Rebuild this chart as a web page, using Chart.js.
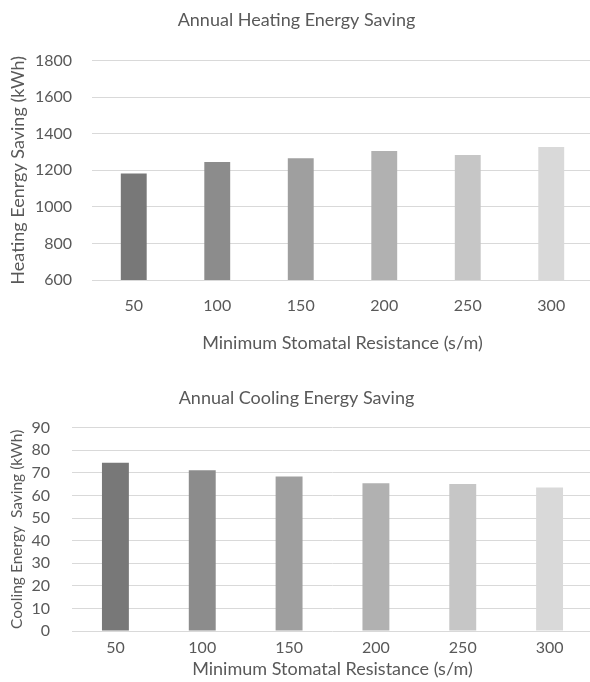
<!DOCTYPE html>
<html>
<head>
<meta charset="utf-8">
<script src="https://cdn.jsdelivr.net/npm/chart.js"></script>
<style>
  html, body { margin: 0; padding: 0; background: #fff; overflow: hidden; width: 590px; height: 682px; }
  #heatChart { position: absolute; left: 0; top: 0; }
  #coolChart { position: absolute; left: 0; top: 370px; }
</style>
</head>
<body>
<canvas id="heatChart" width="593" height="360"></canvas>
<canvas id="coolChart" width="593" height="312"></canvas>

<script>
  const resistance = ["50", "100", "150", "200", "250", "300"];
  const heatingSaving = [1183, 1246, 1266, 1305, 1283, 1327];
  const coolingSaving = [74.5, 71.1, 68.4, 65.4, 65.0, 63.5];
  const barGreys = ["#787878", "#8c8c8c", "#9f9f9f", "#b1b1b1", "#c6c6c6", "#d9d9d9"];

  const FONT = "Lato, 'Open Sans', sans-serif";
  const TEXT = "#595959";

  function makeChart(id, cfg) {
    return new Chart(document.getElementById(id), {
      type: "bar",
      data: {
        labels: resistance,
        datasets: [{
          data: cfg.values,
          backgroundColor: barGreys,
          borderWidth: 0,
          categoryPercentage: 1,
          barPercentage: 0.31
        }]
      },
      options: {
        responsive: false,
        animation: false,
        layout: { padding: 0 },
        plugins: {
          legend: { display: false },
          tooltip: { enabled: false },
          title: {
            display: true,
            text: cfg.title,
            color: TEXT,
            font: { family: FONT, size: 18, weight: "normal", lineHeight: 1.2 },
            padding: cfg.titlePad
          }
        },
        scales: {
          x: {
            grid: { display: false, drawTicks: false },
            border: { display: false },
            ticks: { color: TEXT, font: { family: FONT, size: 16 }, padding: cfg.xTickPad },
            title: {
              display: true,
              text: "Minimum Stomatal Resistance (s/m)",
              color: TEXT,
              font: { family: FONT, size: 18, lineHeight: 1.2 },
              padding: { top: 0, bottom: cfg.xTitlePad }
            },
            afterFit: s => { s.height = cfg.xHeight; }
          },
          y: {
            min: cfg.min,
            max: cfg.max,
            ticks: {
              stepSize: cfg.step,
              color: TEXT,
              font: { family: FONT, size: 16 },
              padding: cfg.yTickPad,
              callback: v => String(v)
            },
            grid: { color: "#d9d9d9", lineWidth: 1, drawTicks: false },
            border: { display: false },
            title: {
              display: true,
              text: cfg.yTitle,
              color: TEXT,
              font: { family: FONT, size: cfg.yTitleSize, lineHeight: 1.2 },
              padding: { top: cfg.yTitlePad, bottom: 0 }
            },
            afterFit: s => { s.width = cfg.yWidth; }
          }
        }
      }
    });
  }

  makeChart("heatChart", {
    values: heatingSaving,
    title: "Annual Heating Energy Saving",
    titlePad: { top: 9, bottom: 30 },
    min: 600, max: 1800, step: 200,
    yTitle: "Heating Eenrgy Saving (kWh)",
    yTitleSize: 18, yTitlePad: 7,
    yWidth: 92, yTickPad: 20,
    xHeight: 80, xTickPad: 16, xTitlePad: 6
  });

  makeChart("coolChart", {
    values: coolingSaving,
    title: "Annual Cooling Energy Saving",
    titlePad: { top: 17, bottom: 19 },
    min: 0, max: 90, step: 10,
    yTitle: "Cooling Energy  Saving (kWh)",
    yTitleSize: 15.5, yTitlePad: 8,
    yWidth: 72, yTickPad: 22,
    xHeight: 51, xTickPad: 7, xTitlePad: 2
  });
</script>
</body>
</html>
